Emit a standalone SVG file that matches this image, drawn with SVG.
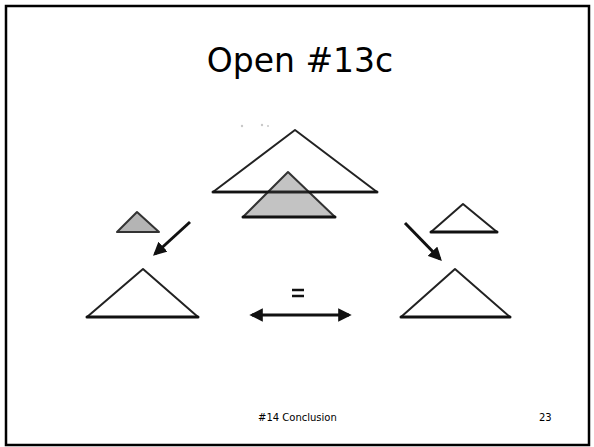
<svg xmlns="http://www.w3.org/2000/svg" width="594" height="447" viewBox="0 0 594 447">
  <defs>
    <style>
      .tri { fill: #ffffff; stroke: #222; stroke-width: 2; stroke-linejoin: round; }
      .shaded { fill: #b4b4b4; stroke: #333; stroke-width: 2; stroke-linejoin: round; }
      .base { stroke: #111; stroke-width: 3; stroke-linecap: round; }
      .arrow { stroke: #111; stroke-width: 3; fill: none; }
      .title { font-family: "Comic Sans MS", "DejaVu Sans", sans-serif; font-size: 33px; fill: #000; text-anchor: middle; }
      .foot { font-family: "DejaVu Sans", "Liberation Sans", sans-serif; font-size: 10px; fill: #000; }
    </style>
    <marker id="head" viewBox="0 0 10 10" refX="8" refY="5" markerWidth="4.5" markerHeight="4.5" orient="auto-start-reverse">
      <path d="M0,0 L10,5 L0,10 z" fill="#111"/>
    </marker>
  </defs>

  <!-- slide frame -->
  <rect x="0" y="0" width="594" height="447" fill="#ffffff"/>
  <rect x="6" y="6" width="583" height="439" fill="none" stroke="#000" stroke-width="2.5"/>

  <text class="title" x="300" y="72">Open #13c</text>

  <!-- faint specks above the top figure -->
  <g id="specks" fill="#c8c8c8">
    <circle cx="242" cy="126" r="1.2"/>
    <circle cx="262" cy="125" r="1.2"/>
    <circle cx="268" cy="126" r="1"/>
  </g>

  <!-- overlapping pair at the top -->
  <g id="top-large">
    <polygon class="tri" points="295,130 213,192 377,192"/>
  </g>
  <g id="top-shaded">
    <polygon class="shaded" points="288,172 243,217 335,217" fill-opacity="0.8"/>
    <line class="base" x1="243" y1="217" x2="335" y2="217"/>
  </g>
  <!-- base of the large triangle stays visible across the shaded one -->
  <line class="base" x1="213" y1="192" x2="377" y2="192" stroke-opacity="0.85"/>

  <!-- left side -->
  <g id="left-small">
    <polygon class="shaded" points="137,212 117,232 159,232"/>
  </g>
  <g id="left-large">
    <polygon class="tri" points="143,269 87,317 198,317"/>
    <line class="base" x1="87" y1="317" x2="198" y2="317"/>
  </g>

  <!-- right side -->
  <g id="right-small">
    <polygon class="tri" points="463,204 431,232 497,232"/>
    <line class="base" x1="431" y1="232" x2="497" y2="232" stroke-width="2.5"/>
  </g>
  <g id="right-large">
    <polygon class="tri" points="455,269 401,317 510,317"/>
    <line class="base" x1="401" y1="317" x2="510" y2="317"/>
  </g>

  <!-- equality mark -->
  <g id="equals">
    <line x1="292" y1="290" x2="304" y2="290" stroke="#111" stroke-width="2.5"/>
    <line x1="292" y1="296" x2="304" y2="296" stroke="#111" stroke-width="2.5"/>
  </g>

  <g id="connectors">
    <line class="arrow" x1="190" y1="222" x2="155" y2="254" marker-end="url(#head)"/>
    <line class="arrow" x1="405" y1="223" x2="440" y2="259" marker-end="url(#head)"/>
    <line class="arrow" x1="252" y1="315" x2="349" y2="315" marker-start="url(#head)" marker-end="url(#head)"/>
  </g>

  <text class="foot" x="258" y="421">#14 Conclusion</text>
  <text class="foot" x="539" y="421">23</text>
</svg>
